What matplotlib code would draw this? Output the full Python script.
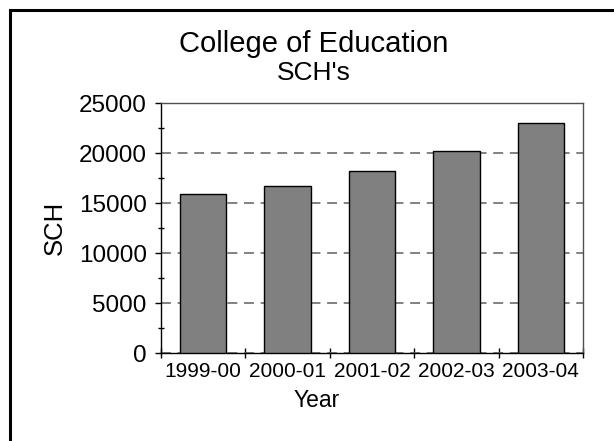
import matplotlib
matplotlib.use("Agg")
import matplotlib.pyplot as plt
from matplotlib.patches import Rectangle
from matplotlib.ticker import MultipleLocator, FixedLocator, NullFormatter

# ----- Data -----
years = ["1999-00", "2000-01", "2001-02", "2002-03", "2003-04"]
sch = [15950, 16700, 18200, 20170, 23040]
# ----------------

plt.rcParams['font.family'] = ['Liberation Sans', 'DejaVu Sans']

W, H = 614, 441
fig = plt.figure(figsize=(W / 100, H / 100), dpi=100)
ax = fig.add_axes([161 / W, 1 - 353 / H, (583 - 161) / W, (353 - 103) / H])

x = list(range(len(years)))
ax.bar(x, sch, width=0.55, color='#808080', edgecolor='black', linewidth=1, zorder=3)

ax.set_xlim(-0.5, len(years) - 0.5)
ax.set_ylim(0, 25000)

# y axis
ax.yaxis.set_major_locator(MultipleLocator(5000))
ax.yaxis.set_minor_locator(MultipleLocator(2500))
ax.tick_params(axis='y', which='major', direction='out', length=4.3, width=1,
               labelsize=17.5, pad=6)
ax.tick_params(axis='y', which='minor', direction='inout', length=4.3, width=1)
ax.grid(axis='y', which='major', linestyle=(0, (6.2, 4.2)), color='#666666',
        linewidth=1.15, zorder=0)

# x axis: ticks at category boundaries, labels at centres
ax.set_xticks(x)
ax.set_xticklabels(years, fontsize=15)
ax.tick_params(axis='x', which='major', length=0, pad=6.5)
ax.xaxis.set_minor_locator(FixedLocator([i - 0.5 for i in range(len(years) + 1)]))
ax.xaxis.set_minor_formatter(NullFormatter())
ax.tick_params(axis='x', which='minor', direction='inout', length=7, width=1)

for side in ['left', 'bottom']:
    ax.spines[side].set_color('black')
    ax.spines[side].set_linewidth(1)
for side in ['top', 'right']:
    ax.spines[side].set_color('#505050')
    ax.spines[side].set_linewidth(1)

ax.set_ylabel("SCH", fontsize=18.5)
ax.yaxis.set_label_coords(-0.222, 0.5)
ax.set_xlabel("Year", fontsize=16.5)
ax.xaxis.set_label_coords(0.369, -0.145)

fig.text(314 / W, 1 - 52.3 / H, "College of Education", fontsize=21,
         ha='center', va='baseline')
fig.text(314 / W, 1 - 80 / H, "SCH's", fontsize=19, ha='center', va='baseline')

# outer frame (cropped at right and bottom)
fig.patches.append(Rectangle((9.5 / W, -1), 2, 1 + (1 - 9.5 / H), transform=fig.transFigure,
                             fill=False, edgecolor='black', linewidth=2.2))

fig.savefig("out.png", dpi=100)
